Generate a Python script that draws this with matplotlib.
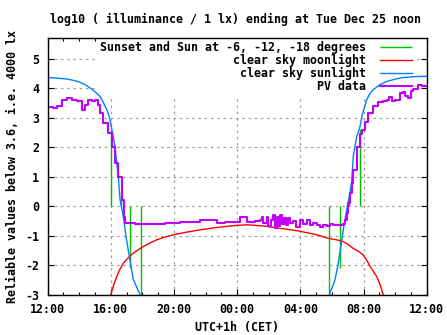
import matplotlib
matplotlib.use("Agg")
import matplotlib.pyplot as plt

plt.rcParams["font.family"] = ["DejaVu Sans Mono"]
plt.rcParams["font.weight"] = "bold"
plt.rcParams["axes.unicode_minus"] = False

FS = 8.4

# hours after 12:00 on the previous day
tick_hours = [0, 4, 8, 12, 16, 20, 24]
tick_labels = ["12:00", "16:00", "20:00", "00:00", "04:00", "08:00", "12:00"]

# sunset / sun at -6, -12, -18 degrees, then the morning in reverse
sun_times = [3.99, 4.62, 5.23, 5.93, 17.83, 18.48, 19.11, 19.80]
sun_low = [0.0, 0.0, -2.07, -3.6, -3.6, -2.07, 0.0, 0.0]
sun_high = [2.58, 0.40, 0.0, 0.0, 0.0, 0.0, 0.40, 2.63]

moon_t = [3.90, 3.99, 4.10, 4.20, 4.37, 4.55, 4.79, 5.10, 5.42, 5.75, 6.05,
          6.50, 6.90, 7.40, 7.95, 8.80, 9.65, 10.60, 11.55, 12.60, 13.65,
          14.71, 15.77, 16.82, 17.30, 17.77, 18.30, 18.72, 19.05, 19.35,
          19.70, 19.99, 20.20, 20.41, 20.62, 20.84, 21.05, 21.25, 21.35]
moon_v = [-3.3, -3.0, -2.80, -2.62, -2.38, -2.15, -1.92, -1.74, -1.58, -1.46,
          -1.36, -1.23, -1.13, -1.04, -0.96, -0.87, -0.79, -0.72, -0.66, -0.62,
          -0.66, -0.74, -0.82, -0.93, -1.00, -1.08, -1.13, -1.19, -1.30, -1.42,
          -1.53, -1.65, -1.82, -2.03, -2.20, -2.38, -2.65, -3.0, -3.3]

sun_t = [0.0, 0.04, 0.60, 1.20, 1.60, 2.05, 2.40, 2.68, 2.90, 3.10, 3.31,
         3.50, 3.74, 3.90, 4.01, 4.12, 4.26, 4.47, 4.58, 4.79, 4.96, 5.17,
         5.42, 5.85, 6.10,
         17.60, 17.88, 18.19, 18.40, 18.56, 18.72, 18.89, 19.10, 19.25, 19.35,
         19.57, 19.78, 19.89, 20.20, 20.40, 20.62, 21.04, 21.40, 21.68, 22.10,
         22.52, 23.20, 23.90, 24.0]
sun_v = [4.38, 4.37, 4.35, 4.32, 4.28, 4.21, 4.12, 4.02, 3.93, 3.84, 3.73,
         3.55, 3.28, 3.05, 2.77, 2.45, 2.03, 1.01, 0.23, -0.34, -1.02, -1.70,
         -2.47, -3.0, -3.6,
         -3.6, -2.93, -2.49, -1.93, -1.36, -0.79, -0.23, 0.34, 0.85, 1.70,
         2.37, 2.71, 3.05, 3.62, 3.82, 3.96, 4.13, 4.22, 4.27, 4.33, 4.37,
         4.40, 4.41, 4.41]

pv_t = [0.0, 0.04, 0.35, 0.57, 0.89, 1.20, 1.52, 1.84, 2.15, 2.36, 2.57, 2.79,
        3.00, 3.17, 3.31, 3.52, 3.84, 4.05, 4.26, 4.47, 4.69, 4.83, 4.90,
        5.50, 6.20, 6.92, 7.43, 8.38, 9.01, 9.65, 10.28, 10.70, 11.23, 12.18,
        12.60, 13.13, 13.45, 13.55, 13.65, 13.87, 13.97, 14.14, 14.27, 14.40,
        14.52, 14.65, 14.71, 14.84, 14.96, 15.09, 15.22, 15.35, 15.54, 15.72,
        15.98, 16.17, 16.40, 16.61, 16.82, 17.04, 17.25, 17.44, 17.67, 17.88,
        18.09, 18.51, 18.72, 18.83, 18.94, 19.04, 19.15, 19.25, 19.35, 19.57,
        19.78, 19.89, 20.10, 20.31, 20.62, 20.94, 21.25, 21.47, 21.63, 21.79,
        22.00, 22.31, 22.52, 22.63, 22.84, 22.99, 23.16, 23.47, 23.69, 23.90,
        24.0]
pv_v = [3.37, 3.37, 3.34, 3.41, 3.62, 3.68, 3.62, 3.56, 3.28, 3.45, 3.60, 3.56,
        3.62, 3.45, 3.17, 2.83, 2.49, 2.03, 1.47, 1.01, 0.22, -0.34, -0.57,
        -0.60, -0.60, -0.58, -0.55, -0.53, -0.52, -0.47, -0.45, -0.57, -0.53,
        -0.36, -0.51, -0.49, -0.47, -0.34, -0.55, -0.34, -0.66, -0.45, -0.30,
        -0.73, -0.35, -0.65, -0.28, -0.60, -0.40, -0.62, -0.38, -0.55, -0.50,
        -0.70, -0.45, -0.60, -0.45, -0.62, -0.55, -0.62, -0.69, -0.62, -0.66,
        -0.60, -0.62, -0.62, -0.60, -0.45, -0.23, 0.11, 0.45, 0.79, 1.24, 2.03,
        2.45, 2.60, 2.85, 3.17, 3.39, 3.53, 3.56, 3.62, 3.71, 3.56, 3.62, 3.85,
        3.87, 3.75, 3.68, 3.90, 3.98, 4.13, 4.07, 4.07, 4.07]

fig = plt.figure(figsize=(4.47, 3.35), dpi=100)
ax = fig.add_axes([0.1067, 0.1194, 0.8479, 0.7663])

ax.vlines(sun_times, sun_low, sun_high, colors="#00c000", lw=1.0,
          label="Sunset and Sun at -6, -12, -18 degrees", zorder=2)
ax.plot(moon_t, moon_v, color="#ff0000", lw=1.0,
        label="clear sky moonlight", zorder=2.1)
ax.plot(sun_t, sun_v, color="#0080ff", lw=1.0,
        label="clear sky sunlight", zorder=2.2)
ax.plot(pv_t, pv_v, color="#c000ff", lw=1.5, drawstyle="steps-post",
        label="PV data", zorder=2.3)

ax.set_xlim(0, 24)
ax.set_ylim(-3, 5.7)
ax.set_xticks(tick_hours)
ax.set_xticklabels(tick_labels)
ax.set_xticks(range(25), minor=True)
ax.set_yticks(range(-3, 6))
ax.set_yticklabels([str(v) for v in range(-3, 6)])

ax.tick_params(which="both", direction="in", top=True, right=True,
               labelsize=FS, width=0.8)
ax.tick_params(which="major", length=4.5)
ax.tick_params(which="minor", length=2.2)
ax.tick_params(axis="x", pad=6)
ax.tick_params(axis="y", pad=6)
for s in ax.spines.values():
    s.set_linewidth(1.0)

ax.set_axisbelow(True)
ax.grid(True, which="major", color="#a0a0a0", lw=0.9, ls=(0, (2, 3)))

leg = ax.legend(loc="upper right", bbox_to_anchor=(0.984, 1.021),
                markerfirst=False, fontsize=FS, handlelength=2.75,
                handletextpad=1.2, labelspacing=0.0, borderpad=0.2,
                frameon=True, fancybox=False, framealpha=1.0,
                facecolor="white", edgecolor="none")
leg.set_zorder(1.5)

fig.text(0.527, 0.943, "log10 ( illuminance / 1 lx) ending at Tue Dec 25 noon",
         ha="center", va="center", fontsize=FS)
fig.text(0.53, 0.021, "UTC+1h (CET)", ha="center", va="center", fontsize=FS)
fig.text(0.027, 0.5025, "Reliable values below 3.6, i.e. 4000 lx",
         ha="center", va="center", rotation=90, fontsize=FS)

fig.savefig("out.png", dpi=100, facecolor="white")
